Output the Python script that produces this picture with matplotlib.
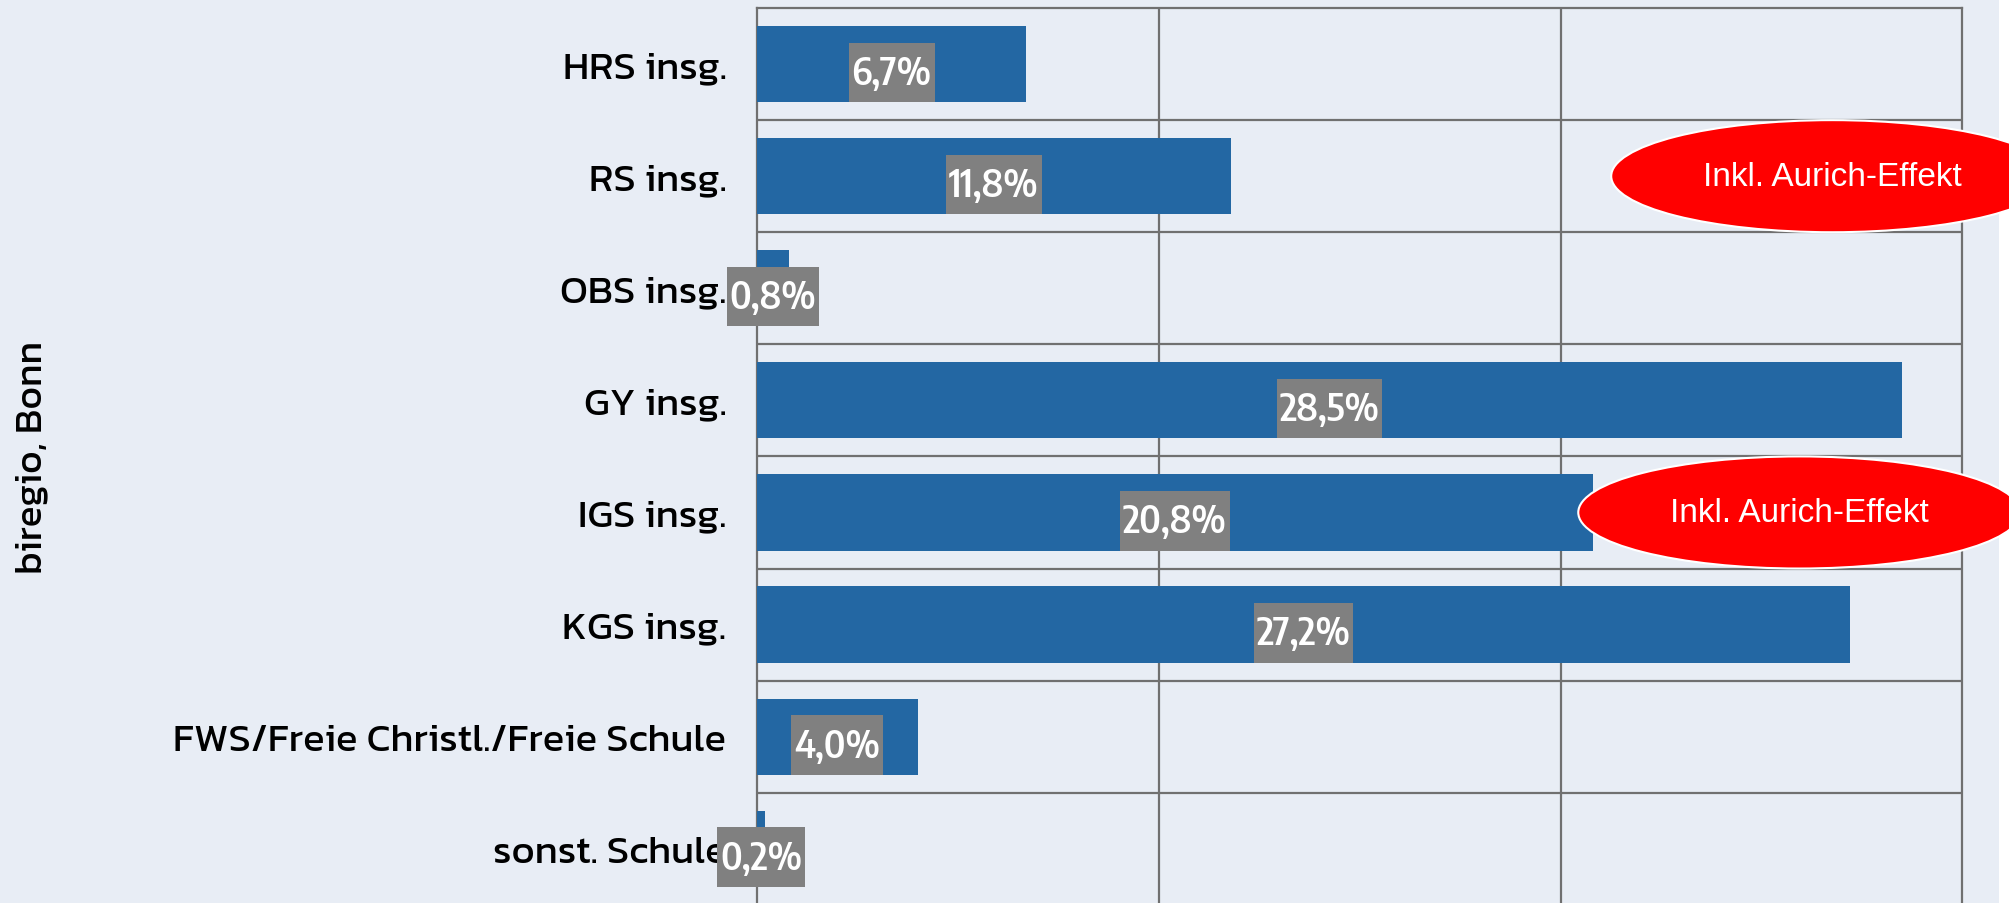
import matplotlib
matplotlib.use('Agg')
import matplotlib.pyplot as plt
from matplotlib.patches import Ellipse, Rectangle

# Anteil je Schulform, biregio Bonn
schulformen = ['HRS insg.', 'RS insg.', 'OBS insg.', 'GY insg.', 'IGS insg.', 'KGS insg.',
               'FWS/Freie Christl./Freie Schule', 'sonst. Schule']
anteile = [6.7, 11.8, 0.8, 28.5, 20.8, 27.2, 4.0, 0.2]

hinweis = 'Inkl. Aurich-Effekt'
hinweis_zeilen = ['RS insg.', 'IGS insg.']

bg = '#e8edf5'
bar_col = '#2367a3'
grid_col = '#707070'
font = ['Kanit', 'DejaVu Sans']
label_font = ['Encode Sans Condensed', 'DejaVu Sans']
bar_h = 0.68

fig = plt.figure(figsize=(20.09, 9.04), dpi=100, facecolor=bg)
ax = fig.add_axes([0.3768, -0.002, 0.6000, 0.992])
ax.set_facecolor(bg)

ypos = list(range(len(schulformen)))
ax.barh(ypos, anteile, height=bar_h, color=bar_col, zorder=3)

ax.set_xlim(0, 30)
ax.set_ylim(len(schulformen) - 0.5, -0.5)
ax.set_xticks([10, 20])
ax.set_xticklabels([])
ax.set_yticks(ypos)
ax.set_yticklabels(schulformen, family=font, fontsize=28.7, color='black')
ax.set_yticks([y + 0.5 for y in ypos[:-1]], minor=True)
ax.tick_params(axis='both', which='both', length=0)
ax.tick_params(axis='y', pad=22)
ax.grid(axis='x', color=grid_col, lw=1.6, zorder=1)
ax.grid(axis='y', which='minor', color=grid_col, lw=1.6, zorder=1)
ax.grid(axis='y', which='major', visible=False)
for s in ['left', 'right', 'top']:
    ax.spines[s].set_color(grid_col)
    ax.spines[s].set_linewidth(1.6)
ax.spines['bottom'].set_visible(False)

# Datenbeschriftung: graue Box (bis Balkenunterkante), weisse Schrift
box_h = 0.53
labels = []
for y, v in zip(ypos, anteile):
    t = ax.text(v / 2, y + bar_h / 2 - box_h / 2, f'{v:.1f}%'.replace('.', ','),
                ha='center', va='center', family=label_font, fontsize=27.5,
                weight='semibold', color='white', zorder=5)
    labels.append(t)

fig.canvas.draw()
inv = ax.transData.inverted()
for y, t in zip(ypos, labels):
    bb = t.get_window_extent()
    x0 = inv.transform((bb.x0 - 3, 0))[0]
    x1 = inv.transform((bb.x1 + 3, 0))[0]
    ax.add_patch(Rectangle((x0, y + bar_h / 2 - box_h), x1 - x0, box_h,
                           facecolor='#808080', edgecolor='none', zorder=4, clip_on=False))

fig.text(32 / 2009, 0.494, 'biregio, Bonn', rotation=90, ha='center', va='center',
         family=font, fontsize=28, color='black')

# rote Hinweis-Ellipsen
ell_x = [26.76, 25.94]
for zeile, ex in zip(hinweis_zeilen, ell_x):
    ey = schulformen.index(zeile) + 0.0
    ax.add_patch(Ellipse((ex, ey), 11.0, 1.0, facecolor='#ff0000', edgecolor='white',
                         lw=1.5, clip_on=False, zorder=6))
    ax.text(ex, ey, hinweis, ha='center', va='center', family='Liberation Sans',
            fontsize=24, color='white', zorder=7, clip_on=False)

fig.patches.append(Rectangle((1999 / 2009, 0), 1, 1, transform=fig.transFigure,
                             facecolor='white', edgecolor='none', zorder=-1))

fig.savefig('out.png', dpi=100, facecolor=bg)
